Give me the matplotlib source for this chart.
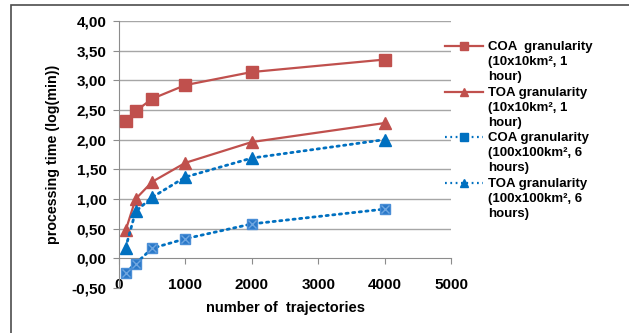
import numpy as np
import matplotlib
matplotlib.use("Agg")
import matplotlib.pyplot as plt
from matplotlib.lines import Line2D
from matplotlib.patches import Rectangle

trajectories = [100, 250, 500, 1000, 2000, 4000]
coa_fine = [2.31, 2.48, 2.69, 2.92, 3.14, 3.35]
toa_fine = [0.47, 1.00, 1.29, 1.61, 1.96, 2.28]
coa_coarse = [-0.24, -0.09, 0.17, 0.33, 0.58, 0.83]
toa_coarse = [0.18, 0.79, 1.03, 1.37, 1.69, 2.00]

labels = ["COA  granularity\n(10x10km\u00b2, 1\nhour)",
          "TOA granularity\n(10x10km\u00b2, 1\nhour)",
          "COA granularity\n(100x100km\u00b2, 6\nhours)",
          "TOA granularity\n(100x100km\u00b2, 6\nhours)"]
yticks = np.arange(-0.5, 4.01, 0.5)
xticks = [0, 1000, 2000, 3000, 4000, 5000]

red = "#C0504D"
blue = "#0070C0"
plt.rcParams['font.family'] = ['Liberation Sans', 'DejaVu Sans']

W, H = 629, 333
fig = plt.figure(figsize=(W / 100, H / 100), dpi=100)
ax = fig.add_axes([119 / W, 1 - 288 / H, (451 - 119) / W, (288 - 21) / H])

# outer frame
fig.patches.append(Rectangle((11 / W, -0.1), 1.2, 1 - 5 / H + 0.1, transform=fig.transFigure,
                             fill=False, edgecolor="#4d4d4d", lw=1.2))

ax.plot(trajectories, coa_fine, color=red, lw=1.6, marker="s", ms=8, zorder=4)
ax.plot(trajectories, toa_fine, color=red, lw=1.6, marker="^", ms=8, zorder=4)
dot = (0, (0.8, 1.6))
ax.plot(trajectories, coa_coarse, color=blue, lw=2, ls=dot, dash_capstyle="round",
        marker="s", ms=7.5, mfc="#2a78c8", mec="#4a8ed6", zorder=4)
ax.plot(trajectories, coa_coarse, ls="none", marker="x", ms=5.5, mew=1, color="#6ea6e0", zorder=5)
ax.plot(trajectories, toa_coarse, color=blue, lw=2, ls=dot, dash_capstyle="round",
        marker="^", ms=8, zorder=4)

ax.set_xlim(0, 5000)
ax.set_ylim(-0.5, 4.0)
ax.set_xticks(xticks)
ax.set_yticks(yticks)
ax.set_yticklabels([f"{v:.2f}".replace(".", ",") for v in yticks])
for y in yticks[2:]:
    ax.axhline(y, color="#a6a6a6", lw=1, zorder=1)

for s in ["top", "right"]:
    ax.spines[s].set_visible(False)
ax.spines["bottom"].set_position(("data", 0))
ax.spines["left"].set_color("#8c8c8c")
ax.spines["bottom"].set_color("#8c8c8c")
ax.tick_params(axis="y", direction="out", length=4, color="#8c8c8c", pad=5)
ax.tick_params(axis="x", direction="out", length=4, color="#8c8c8c", pad=10)
for t in ax.get_xticklabels() + ax.get_yticklabels():
    t.set_fontsize(11)
    t.set_fontweight("bold")

ax.set_xlabel("number of  trajectories", fontsize=10.5, fontweight="bold")
ax.set_ylabel("processing time (log(min))", fontsize=10.3, fontweight="bold", labelpad=8)
ax.xaxis.set_label_coords(0.5, -0.05)

# legend drawn by hand so handles sit on the first text line
styles = [dict(color=red, lw=1.6, marker="s", ms=6),
          dict(color=red, lw=1.6, marker="^", ms=6),
          dict(color=blue, lw=1.6, ls=dot, marker="s", ms=5.5),
          dict(color=blue, lw=1.6, ls=dot, marker="^", ms=6)]
for i, (lab, st) in enumerate(zip(labels, styles)):
    yy = 1 - (46 + 45.7 * i) / H
    fig.add_artist(Line2D([445 / W, 483 / W], [yy, yy], transform=fig.transFigure,
                          markevery=[], **st))
    fig.add_artist(Line2D([464 / W], [yy], transform=fig.transFigure,
                          ls="none", marker=st["marker"], ms=st["ms"], color=st["color"]))
    fig.text(488 / W, yy + 5 / H, lab, fontsize=9.5, fontweight="bold", va="top", ha="left",
             linespacing=1.33)

fig.savefig("out.png", dpi=100)
